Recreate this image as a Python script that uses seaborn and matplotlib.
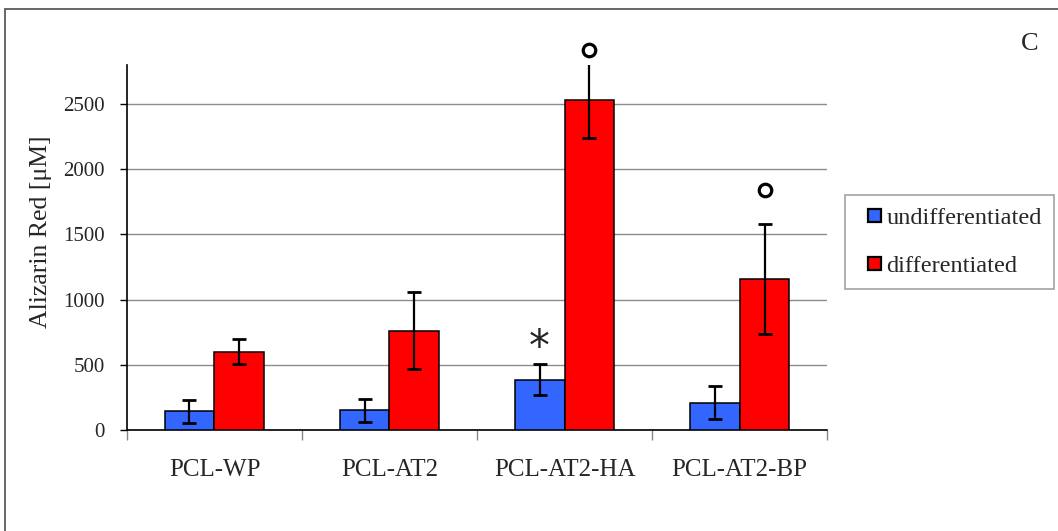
import matplotlib
matplotlib.use("Agg")
import matplotlib.pyplot as plt
import seaborn as sns
import pandas as pd
import numpy as np
from matplotlib.patches import Rectangle, Patch
from matplotlib.legend_handler import HandlerPatch

# Alizarin Red quantification per scaffold type
categories = ["PCL-WP", "PCL-AT2", "PCL-AT2-HA", "PCL-AT2-BP"]
groups = ["undifferentiated", "differentiated"]
undiff_mean = [145, 150, 385, 210]
undiff_err = [88, 85, 120, 127]
diff_mean = [600, 760, 2530, 1160]
diff_err = [96, 295, 290, 420]
yticks = [0, 500, 1000, 1500, 2000, 2500]

palette = {"undifferentiated": "#3366FF", "differentiated": "#FF0000"}

df = pd.DataFrame({
    "scaffold": categories * 2,
    "group": [groups[0]] * 4 + [groups[1]] * 4,
    "value": undiff_mean + diff_mean,
    "err": undiff_err + diff_err,
})

sns.set_theme(style="white")
plt.rcParams["font.family"] = ["Liberation Serif", "DejaVu Serif"]

fig = plt.figure(figsize=(10.58, 5.31), dpi=100)
ax = fig.add_axes([0.12, 0.1902, 0.6617, 0.6874])

sns.barplot(data=df, x="scaffold", y="value", hue="group", order=categories,
            hue_order=groups, palette=palette, width=0.571, gap=0,
            errorbar=None, edgecolor="black", linewidth=1.1, saturation=1,
            legend=False, ax=ax, zorder=3)

# error bars placed on the drawn bars
for g, means, errs in [(groups[0], undiff_mean, undiff_err),
                       (groups[1], diff_mean, diff_err)]:
    cont = ax.containers[groups.index(g)]
    xs = [p.get_x() + p.get_width() / 2 for p in cont.patches]
    ax.errorbar(xs, means, yerr=errs, fmt="none", ecolor="black",
                elinewidth=1.6, capsize=4.7, capthick=2.0, zorder=4)

ax.set_xlim(-0.5, 3.5)
ax.set_ylim(0, 2800)
ax.set_yticks(yticks)
ax.set_yticklabels([str(t) for t in yticks], fontsize=15)
ax.tick_params(axis="y", direction="out", length=5, width=1, color="black", pad=11, left=True)
ax.set_xticks(range(len(categories)))
ax.set_xticklabels(categories, fontsize=18)
ax.tick_params(axis="x", which="major", length=0, pad=21)
ax.set_xticks(np.arange(-0.5, 4.0, 1.0), minor=True)
ax.tick_params(axis="x", which="minor", direction="out", length=7, width=1,
               color="#888888", bottom=True)

ax.yaxis.grid(True, color="#8c8c8c", linewidth=1.0, zorder=0)
ax.xaxis.grid(False)
ax.set_axisbelow(True)
for side in ["top", "right"]:
    ax.spines[side].set_visible(False)
for side in ["left", "bottom"]:
    ax.spines[side].set_color("black")
    ax.spines[side].set_linewidth(1.2)

ax.set_xlabel("")
ax.set_ylabel("Alizarin Red [\u03bcM]", fontsize=18.5)
ax.yaxis.set_label_coords(-0.107, 0.542)

# significance marks
blue_bars = ax.containers[0].patches
red_bars = ax.containers[1].patches
bx = blue_bars[2].get_x() + blue_bars[2].get_width() / 2
ax.text(bx, 630, "*", fontsize=30, ha="center", va="center",
        family="DejaVu Sans", zorder=5)
for i, yv in [(2, 2914), (3, 1840)]:
    rx = red_bars[i].get_x() + red_bars[i].get_width() / 2
    ax.plot([rx], [yv], marker="o", markersize=9, markerfacecolor="white",
            markeredgecolor="black", markeredgewidth=2.3, clip_on=False, zorder=5)


# small square swatch drawn at the right end of the handle box
def square_swatch(legend, orig_handle, xdescent, ydescent, width, height, fontsize):
    s = 0.55 * fontsize
    return Rectangle((-xdescent + width - s, -ydescent + (height - s) / 2), s, s)


handles = [Patch(facecolor=palette[g], edgecolor="black", linewidth=1.6, label=g)
           for g in groups]
leg = fig.legend(handles=handles, loc="upper left",
                 bbox_to_anchor=(845 / 1058, 1 - 195 / 531), bbox_transform=fig.transFigure,
                 fontsize=17.5, frameon=True, fancybox=False, handlelength=1.0,
                 handleheight=0.7, handletextpad=0.2, labelspacing=1.07,
                 borderpad=0.5, borderaxespad=0,
                 handler_map={Patch: HandlerPatch(patch_func=square_swatch)})
leg.get_frame().set_edgecolor("#8c8c8c")
leg.get_frame().set_linewidth(1.2)

# panel letter and outer frame
fig.text(1030 / 1058, 1 - 44 / 531, "C", fontsize=19, ha="center", va="center")
fig.patches.append(Rectangle((5 / 1058, -0.1), 1.2, 1 - 9 / 531 + 0.1,
                             transform=fig.transFigure, fill=False,
                             edgecolor="#5a5a5a", linewidth=1.3, zorder=0))

fig.savefig("out.png", dpi=100)
